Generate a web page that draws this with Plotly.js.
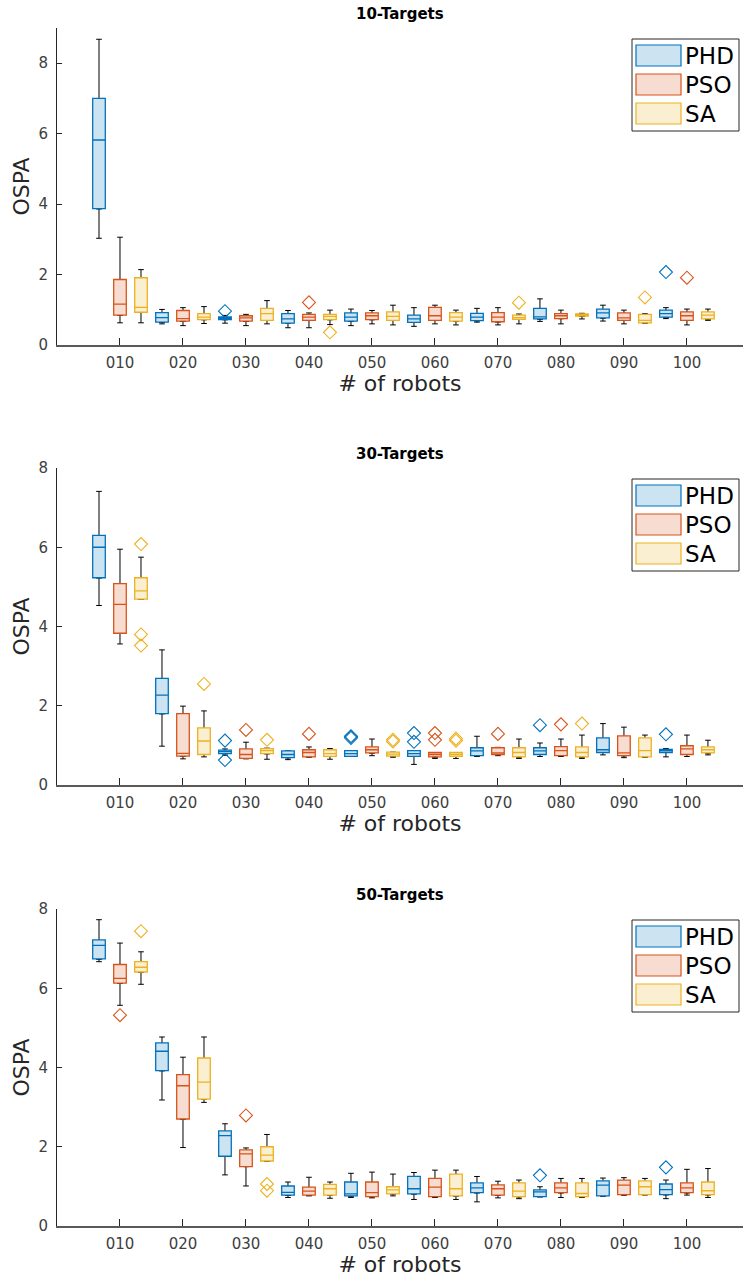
<!DOCTYPE html>
<html>
<head>
<meta charset="utf-8">
<script src="https://cdn.plot.ly/plotly-3.0.1.min.js"></script>
<style>html,body{margin:0;padding:0;background:#fff;}#chart{width:743px;height:1283px;}</style>
</head>
<body>
<div id="chart"></div>
<script>
// ---------------- DATA ----------------
const ROBOTS = ['010','020','030','040','050','060','070','080','090','100'];
const METHODS = ['PHD','PSO','SA'];
const PANEL_TITLES = ['10-Targets','30-Targets','50-Targets'];

// 10 targets
const T10_PHD = {
  lo:  [3.03,0.60,0.62,0.49,0.55,0.53,0.65,0.67,0.68,0.75],
  q1:  [3.87,0.65,0.72,0.62,0.68,0.64,0.69,0.74,0.77,0.79],
  med: [5.82,0.78,0.76,0.74,0.79,0.74,0.79,0.80,0.91,0.89],
  q3:  [7.00,0.92,0.80,0.89,0.91,0.85,0.90,1.04,1.02,0.99],
  hi:  [8.68,1.01,0.84,0.98,1.02,1.06,1.04,1.31,1.13,1.06],
  outX: ['030','100'], outY: [0.96,2.07]
};
const T10_PSO = {
  lo:  [0.63,0.55,0.55,0.49,0.60,0.60,0.57,0.60,0.60,0.57],
  q1:  [0.85,0.68,0.68,0.70,0.72,0.70,0.66,0.75,0.70,0.70],
  med: [1.16,0.75,0.77,0.79,0.83,0.83,0.79,0.83,0.77,0.83],
  q3:  [1.86,0.98,0.83,0.87,0.91,1.07,0.92,0.89,0.91,0.94],
  hi:  [3.06,1.06,0.87,0.91,0.98,1.13,1.06,0.99,0.99,1.02],
  outX: ['040','100'], outY: [1.21,1.91]
};
const T10_SA = {
  lo:  [0.63,0.61,0.60,0.58,0.57,0.57,0.60,0.74,0.63,0.70],
  q1:  [0.93,0.72,0.70,0.72,0.70,0.68,0.73,0.82,0.63,0.74],
  med: [1.07,0.79,0.89,0.81,0.81,0.79,0.78,0.85,0.70,0.85],
  q3:  [1.91,0.89,1.04,0.87,0.94,0.92,0.85,0.88,0.87,0.94],
  hi:  [2.14,1.09,1.26,0.99,1.13,0.99,0.88,0.90,0.89,1.02],
  outX: ['040','070','090'], outY: [0.36,1.20,1.35]
};

// 30 targets
const T30_PHD = {
  lo:  [4.53,0.98,0.75,0.64,0.72,0.52,0.72,0.72,0.76,0.71],
  q1:  [5.23,1.80,0.79,0.69,0.72,0.72,0.74,0.77,0.82,0.82],
  med: [6.00,2.27,0.84,0.77,0.79,0.79,0.86,0.86,0.89,0.87],
  q3:  [6.30,2.69,0.88,0.86,0.87,0.87,0.94,0.94,1.19,0.90],
  hi:  [7.41,3.41,0.91,0.86,0.87,0.87,1.23,1.06,1.55,0.92],
  outX: ['030','030','050','050','060','060','080','100'],
  outY: [1.12,0.63,1.23,1.19,1.31,1.09,1.51,1.28]
};
const T30_PSO = {
  lo:  [3.56,0.66,0.66,0.71,0.74,0.67,0.74,0.72,0.69,0.72],
  q1:  [3.83,0.73,0.67,0.71,0.81,0.71,0.77,0.74,0.74,0.77],
  med: [4.56,0.80,0.77,0.82,0.89,0.77,0.81,0.87,0.81,0.91],
  q3:  [5.08,1.80,0.91,0.89,0.96,0.82,0.94,0.97,1.24,0.99],
  hi:  [5.95,1.99,1.08,0.96,1.16,0.82,0.95,1.16,1.46,1.26],
  outX: ['030','040','060','060','070','080'],
  outY: [1.39,1.29,1.31,1.14,1.29,1.53]
};
const T30_SA = {
  lo:  [4.69,0.71,0.65,0.65,0.70,0.67,0.67,0.67,0.71,0.76],
  q1:  [4.69,0.77,0.79,0.72,0.73,0.72,0.71,0.71,0.71,0.81],
  med: [4.90,1.11,0.87,0.79,0.78,0.77,0.82,0.82,0.87,0.89],
  q3:  [5.23,1.44,0.92,0.89,0.83,0.82,0.94,0.96,1.19,0.96],
  hi:  [5.75,1.87,0.93,0.92,0.83,0.82,1.16,1.26,1.26,1.13],
  outX: ['010','010','010','020','030','050','050','060','060','080'],
  outY: [6.08,3.80,3.52,2.55,1.14,1.14,1.10,1.17,1.12,1.55]
};

// 50 targets
const T50_PHD = {
  lo:  [6.67,3.18,1.29,0.72,0.72,0.67,0.61,0.74,0.76,0.69],
  q1:  [6.74,3.92,1.76,0.78,0.76,0.81,0.84,0.74,0.76,0.79],
  med: [7.08,4.41,2.28,0.85,0.81,0.94,0.96,0.86,1.03,0.92],
  q3:  [7.22,4.62,2.40,1.01,1.11,1.25,1.09,0.91,1.14,1.06],
  hi:  [7.73,4.77,2.58,1.11,1.33,1.35,1.25,0.99,1.21,1.16],
  outX: ['080','100'], outY: [1.28,1.48]
};
const T50_PSO = {
  lo:  [5.57,1.98,1.01,0.76,0.71,0.72,0.71,0.72,0.78,0.78],
  q1:  [6.13,2.70,1.50,0.78,0.74,0.74,0.78,0.84,0.79,0.84],
  med: [6.25,3.54,1.82,0.88,0.84,0.98,0.94,0.96,1.03,0.96],
  q3:  [6.60,3.82,1.92,0.98,1.11,1.20,1.04,1.09,1.16,1.09],
  hi:  [7.14,4.26,1.97,1.23,1.36,1.41,1.13,1.20,1.22,1.43],
  outX: ['010','030'], outY: [5.32,2.79]
};
const T50_SA = {
  lo:  [6.10,3.12,1.64,0.70,0.76,0.67,0.69,0.72,0.79,0.72],
  q1:  [6.41,3.20,1.64,0.78,0.81,0.76,0.74,0.74,0.79,0.79],
  med: [6.53,3.63,1.79,0.94,0.91,0.94,0.88,0.82,0.99,0.89],
  q3:  [6.67,4.24,2.00,1.05,0.99,1.31,1.09,1.09,1.14,1.11],
  hi:  [6.92,4.77,2.31,1.11,1.31,1.41,1.16,1.20,1.20,1.45],
  outX: ['010','030','030'], outY: [7.44,1.06,0.89]
};

const PANELS = [[T10_PHD,T10_PSO,T10_SA],[T30_PHD,T30_PSO,T30_SA],[T50_PHD,T50_PSO,T50_SA]];
const Y_MAX = [9, 8, 8];

// ---------------- STYLE ----------------
const LINE_COLORS = ['#0072BD','#D95319','#EDB120'];
const FILL_COLORS = ['#CCE3F2','#F7DDD1','#FBEFD2'];
const W = 743, H = 1283;
const M = {l:57, r:0, t:28, b:57};
const PANEL_TOP_PX = [28, 468, 909];
const PANEL_BOT_PX = [345, 785, 1226];
const FONT = 'DejaVu Sans, Liberation Sans, sans-serif';

function px2py(y){ return (H - M.b - y) / (H - M.t - M.b); }
function px2px(x){ return (x - M.l) / (W - M.l - M.r); }
function pos(robotLabel, m){ return ROBOTS.indexOf(robotLabel)*3 + m + 1; }

const traces = [];
const layout = {
  width: W, height: H, margin: M, showlegend: false,
  paper_bgcolor: '#fff', plot_bgcolor: '#fff',
  font: {family: FONT, color: '#262626'},
  boxmode: 'overlay',
  shapes: [], annotations: []
};

PANELS.forEach((panel, p) => {
  const sfx = p === 0 ? '' : String(p+1);
  const xa = 'x'+sfx, ya = 'y'+sfx;
  // whiskers (black) first, boxes on top
  panel.forEach((s, m) => {
    const xs = ROBOTS.map(r => pos(r, m));
    traces.push({
      type: 'box', xaxis: xa, yaxis: ya, x: xs,
      q1: s.q1, median: s.q1, q3: s.q1, lowerfence: s.lo, upperfence: s.hi,
      width: 0.27, whiskerwidth: 1, boxpoints: false,
      line: {color: '#000', width: 1}, fillcolor: 'rgba(0,0,0,0)', hoverinfo: 'skip'
    });
  });
  panel.forEach((s, m) => {
    const xs = ROBOTS.map(r => pos(r, m));
    traces.push({
      type: 'box', xaxis: xa, yaxis: ya, x: xs, name: METHODS[m],
      q1: s.q1, median: s.med, q3: s.q3, lowerfence: s.q1, upperfence: s.q3,
      width: 0.6, whiskerwidth: 0, boxpoints: false,
      line: {color: LINE_COLORS[m], width: 1.3}, fillcolor: FILL_COLORS[m], hoverinfo: 'skip'
    });
  });
  panel.forEach((s, m) => {
    traces.push({
      type: 'scatter', mode: 'markers', xaxis: xa, yaxis: ya,
      x: s.outX.map(r => pos(r, m)), y: s.outY,
      marker: {symbol: 'diamond-open', size: 10, color: LINE_COLORS[m], line: {width: 1.1}},
      hoverinfo: 'skip', cliponaxis: false
    });
  });

  const y0 = px2py(PANEL_BOT_PX[p]), y1 = px2py(PANEL_TOP_PX[p]);
  layout['xaxis'+sfx] = {
    domain: [0,1], anchor: ya, range: [-1, 31.67],
    tickvals: ROBOTS.map(r => pos(r, 1)), ticktext: ROBOTS,
    ticks: 'inside', ticklen: 7, tickwidth: 1, tickcolor: '#262626',
    showline: true, linecolor: '#5a5a5a', linewidth: 1.5,
    showgrid: false, zeroline: false, ticklabelstandoff: 3,
    tickfont: {family: FONT, size: 15, color: '#404040'},
    title: {text: '# of robots', font: {family: FONT, size: 22, color: '#262626'}, standoff: 5}
  };
  layout['yaxis'+sfx] = {
    domain: [y0, y1], anchor: xa, range: [0, Y_MAX[p]],
    tick0: 0, dtick: 2, ticks: 'inside', ticklen: 5, tickwidth: 1, tickcolor: '#262626',
    showline: true, linecolor: '#262626', linewidth: 1,
    showgrid: false, zeroline: false, ticklabelstandoff: 5,
    tickfont: {family: FONT, size: 15, color: '#404040'},
    title: {text: 'OSPA', font: {family: FONT, size: 22, color: '#262626'}, standoff: 2}
  };

  // subplot title
  layout.annotations.push({
    xref: 'paper', yref: 'paper', x: 0.5, y: px2py(PANEL_TOP_PX[p] - 14),
    xanchor: 'center', yanchor: 'middle', showarrow: false,
    text: '<b>' + PANEL_TITLES[p] + '</b>', font: {family: FONT, size: 15, color: '#000'}
  });

  // legend (drawn box)
  const T = PANEL_TOP_PX[p];
  layout.shapes.push({
    type: 'rect', xref: 'paper', yref: 'paper',
    x0: px2px(632), x1: px2px(739), y0: px2py(T+103), y1: px2py(T+11),
    line: {color: '#262626', width: 1}, fillcolor: '#fff', layer: 'above'
  });
  METHODS.forEach((name, m) => {
    const top = T + 17 + m*29;
    layout.shapes.push({
      type: 'rect', xref: 'paper', yref: 'paper',
      x0: px2px(636), x1: px2px(681), y0: px2py(top+21), y1: px2py(top),
      line: {color: LINE_COLORS[m], width: 1.2}, fillcolor: FILL_COLORS[m], layer: 'above'
    });
    layout.annotations.push({
      xref: 'paper', yref: 'paper', x: px2px(683), y: px2py(top + 11),
      xanchor: 'left', yanchor: 'middle', showarrow: false,
      text: name, font: {family: FONT, size: 23, color: '#000'}
    });
  });
});

Plotly.newPlot('chart', traces, layout, {staticPlot: true, displayModeBar: false});
</script>
</body>
</html>
